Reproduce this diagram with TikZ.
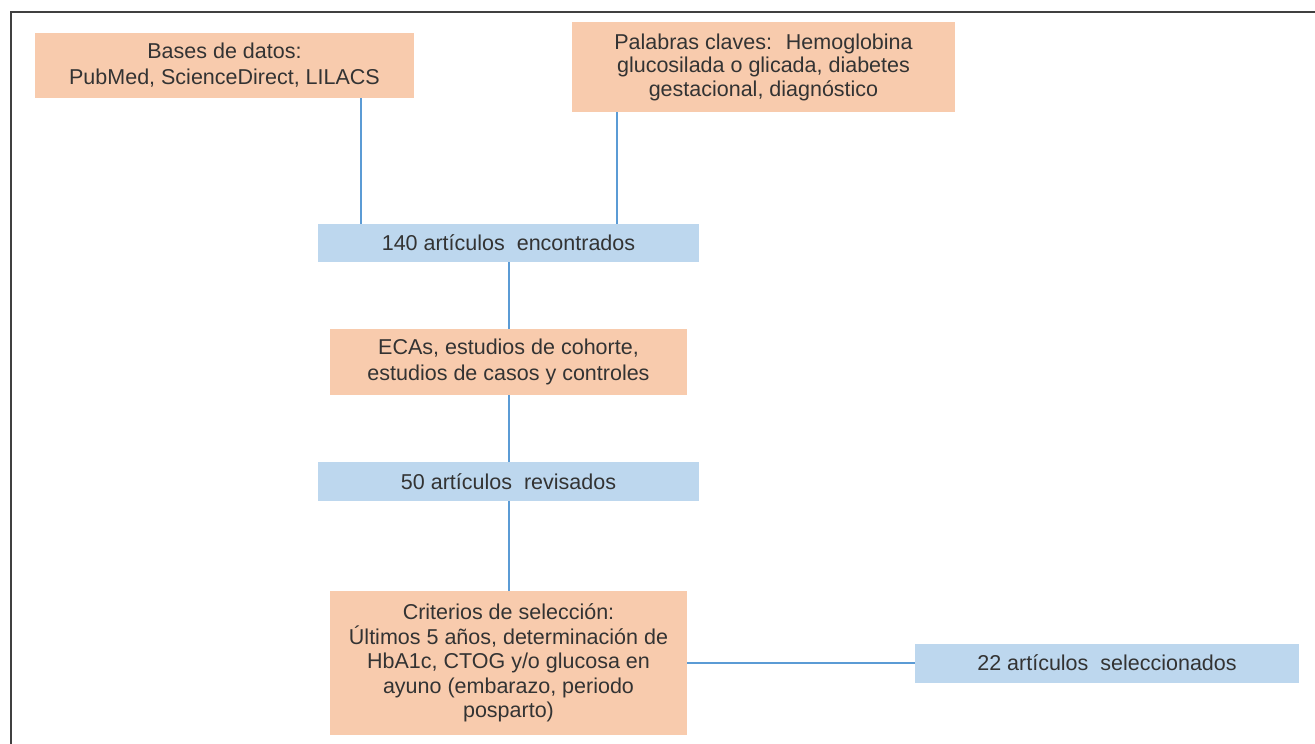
\documentclass[tikz,border=0pt]{standalone}
\usepackage{fontspec}
\setmainfont{Liberation Sans}
\definecolor{peach}{HTML}{F8CBAD}
\definecolor{lblue}{HTML}{BDD7EE}
\definecolor{lline}{HTML}{5B9BD5}
\definecolor{txt}{HTML}{333333}
\begin{document}
\begin{tikzpicture}[x=1pt,y=-1pt,
  box/.style={inner sep=0pt, align=center, text=txt,
    font=\fontsize{21.5}{24}\selectfont},
  obox/.style={box, fill=peach},
  bbox/.style={box, fill=lblue},
  conn/.style={draw=lline, line width=2pt}]
\useasboundingbox (0,0) rectangle (1315,744);
\draw[line width=1.5pt, draw=black!75] (11,744) -- (11,12) -- (1315,12);
\node[obox, minimum width=379, minimum height=65,
  font=\fontsize{21.5}{26}\selectfont] (bases) at (224.5,65.5)
  {Bases de datos:\\PubMed, ScienceDirect, LILACS};
\node[obox, minimum width=383, minimum height=90,
  font=\fontsize{21.5}{23.5}\selectfont] (pal) at (763.5,67)
  {Palabras claves:~ Hemoglobina\\glucosilada o glicada, diabetes\\gestacional, diagnóstico};
\node[bbox, minimum width=381, minimum height=38] (enc) at (508.5,243)
  {140 artículos~ encontrados};
\node[obox, minimum width=357, minimum height=66,
  font=\fontsize{21.5}{26}\selectfont] (ecas) at (508.5,362)
  {ECAs, estudios de cohorte,\\estudios de casos y controles};
\node[bbox, minimum width=381, minimum height=39] (rev) at (508.5,481.5)
  {50 artículos~ revisados};
\node[obox, minimum width=357, minimum height=144,
  font=\fontsize{21.5}{24.5}\selectfont] (crit) at (508.5,663)
  {Criterios de selección:\\Últimos 5 años, determinación de\\HbA1c, CTOG y/o glucosa en\\ayuno (embarazo, periodo\\posparto)};
\node[bbox, minimum width=384, minimum height=39] (sel) at (1107,663)
  {22 artículos~ seleccionados};
\coordinate (xa) at (361,0);
\coordinate (xb) at (617,0);
\draw[conn] (bases.south -| xa) -- (enc.north -| xa);
\draw[conn] (pal.south -| xb) -- (enc.north -| xb);
\draw[conn] (enc.south) -- (ecas.north);
\draw[conn] (ecas.south) -- (rev.north);
\draw[conn] (rev.south) -- (crit.north);
\draw[conn] (crit.east) -- (sel.west);
\end{tikzpicture}
\end{document}
